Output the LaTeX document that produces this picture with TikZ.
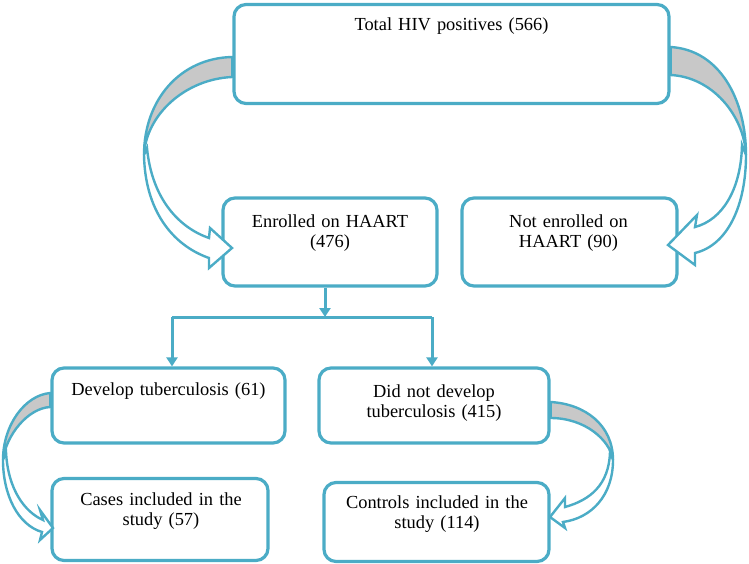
\documentclass[tikz,border=0pt]{standalone}
\usepackage{fontspec}
\setmainfont{Liberation Serif}
\usetikzlibrary{arrows.meta}
\definecolor{tealc}{RGB}{75,172,198}
\definecolor{backg}{RGB}{200,200,200}
\tikzset{
  x=1pt,y=-1pt,
  box/.style={draw=tealc,line width=3.2pt,rounded corners=12pt,fill=white,inner sep=0pt},
  txt/.style={anchor=base,inner sep=0pt,text width=236pt,align=center,font=\fontsize{18.4}{20.5}\selectfont},
  conn/.style={draw=tealc,line width=3pt},
  tip/.style={-{Triangle[length=9pt,width=11pt]}},
  cback/.style={draw=tealc,line width=2.4pt,fill=backg,line join=round},
  cfront/.style={draw=tealc,line width=2.4pt,fill=white,line join=miter},
}
\begin{document}
\begin{tikzpicture}
\useasboundingbox (0,0) rectangle (749,564);
% boxes
\node[box,minimum width=435pt,minimum height=99pt] (top) at (451.5,54) {};
\node[box,minimum width=214pt,minimum height=88pt] (enr) at (330,242) {};
\node[box,minimum width=215pt,minimum height=88pt] (notenr) at (569.5,242) {};
\node[box,minimum width=233pt,minimum height=75pt] (dev) at (168.5,405.5) {};
\node[box,minimum width=230pt,minimum height=75pt] (nodev) at (434,405.5) {};
\node[box,minimum width=216pt,minimum height=82pt] (cases) at (160,519.5) {};
\node[box,minimum width=225pt,minimum height=79pt] (ctrl) at (436.5,522) {};
% texts
\node[txt] (topT) at (451.5,31) {Total HIV positives (566)};
\node[txt] (enrT) at (330,227) {Enrolled on HAART\\(476)};
\node[txt] (notenrT) at (568.5,227) {Not enrolled on\\HAART (90)};
\node[txt] (devT) at (168.5,395) {Develop tuberculosis (61)};
\node[txt] (nodevT) at (434,397) {Did not develop\\tuberculosis (415)};
\node[txt] (casesT) at (161,505) {Cases included in the\\study (57)};
\node[txt] (ctrlT) at (437,508) {Controls included in the\\study (114)};
% straight connectors
\coordinate (j) at (325,317);
\coordinate (jl) at (172,317);
\coordinate (jr) at (432,317);
\draw[conn,tip] (enr.south -| j) -- (j);
\draw[conn] (jl) -- (jr);
\draw[conn,tip] (jl) -- (dev.north -| jl);
\draw[conn,tip] (jr) -- (nodev.north -| jr);
% curved arrow: top -> enrolled
\draw[cback] (top.west |- 0,57) .. controls (180,58) and (144,100) .. (144,155)
  .. controls (146,115) and (185,79) .. (top.west |- 0,77) -- cycle;
\draw[cfront] (144,155) .. controls (145,210) and (172,245) .. (209,258) -- (209,268)
  -- (232,248) -- (210,228) -- (209,238) .. controls (180,228) and (152,200) .. (147,148) -- cycle;
% curved arrow: top -> not enrolled
\draw[cback] (top.east |- 0,47) .. controls (720,50) and (746,100) .. (746,155)
  .. controls (744,115) and (712,77) .. (top.east |- 0,75) -- cycle;
\draw[cfront] (746,155) .. controls (746,205) and (728,245) .. (695,253) -- (695,265)
  -- (668,245) -- (697,215) -- (695,227) .. controls (722,220) and (741,190) .. (742,145) -- cycle;
% curved arrow: develop -> cases
\draw[cback] (dev.west |- 0,393) .. controls (25,395) and (3,425) .. (3,460)
  .. controls (6,435) and (28,408) .. (dev.west |- 0,407) -- cycle;
\draw[cfront] (3,460) .. controls (3,495) and (18,525) .. (42,532) -- (40,540)
  -- (53,528) -- (40,510) -- (43,520) .. controls (25,512) and (8,490) .. (6,452) -- cycle;
% curved arrow: did not develop -> controls
\draw[cback] (nodev.east |- 0,402) .. controls (585,404) and (613,425) .. (613,460)
  .. controls (610,440) and (585,418) .. (nodev.east |- 0,418) -- cycle;
\draw[cfront] (613,460) .. controls (613,495) and (592,518) .. (563,522) -- (565,528)
  -- (550,517) -- (565,498) -- (565,507) .. controls (590,500) and (609,485) .. (610,452) -- cycle;
\end{tikzpicture}
\end{document}
